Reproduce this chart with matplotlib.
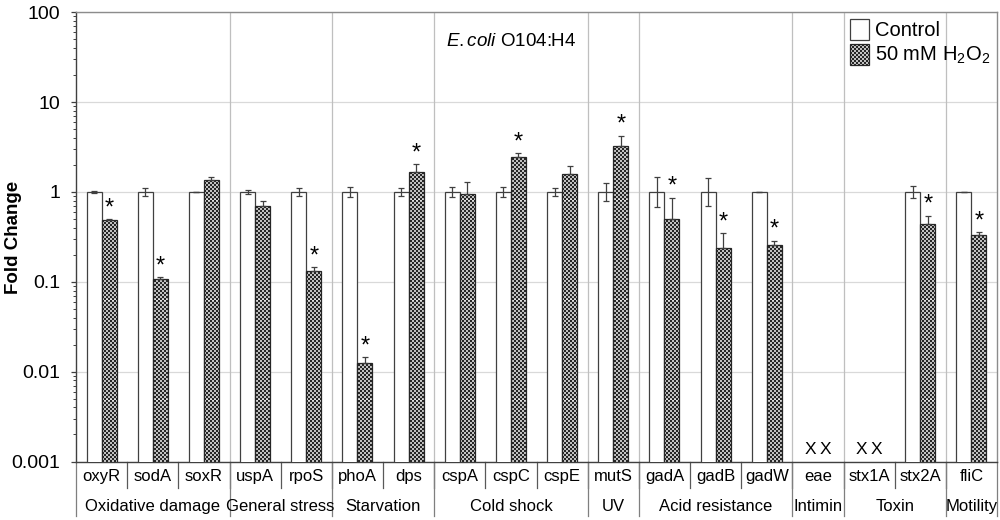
import numpy as np
import matplotlib
matplotlib.use('Agg')
import matplotlib.pyplot as plt
import matplotlib.hatch as mhatch
from matplotlib.path import Path
from matplotlib.lines import Line2D
from matplotlib.ticker import FuncFormatter, LogLocator

nan = np.nan

genes = ['oxyR', 'sodA', 'soxR', 'uspA', 'rpoS', 'phoA', 'dps', 'cspA', 'cspC',
         'cspE', 'mutS', 'gadA', 'gadB', 'gadW', 'eae', 'stx1A', 'stx2A', 'fliC']
group_names = ['Oxidative damage', 'General stress', 'Starvation', 'Cold shock',
               'UV', 'Acid resistance', 'Intimin', 'Toxin', 'Motility']
group_sizes = [3, 2, 2, 3, 1, 3, 1, 2, 1]

control = [1, 1, 1, 1, 1, 1, 1, 1, 1, 1, 1, 1, 1, 1, nan, nan, 1, 1]
control_hi = [1.02, 1.10, 1.01, 1.05, 1.11, 1.13, 1.12, 1.14, 1.13, 1.12,
              1.25, 1.47, 1.44, 1.01, nan, nan, 1.18, 1.01]
treated = [0.49, 0.108, 1.36, 0.70, 0.132, 0.0124, 1.66, 0.95, 2.47, 1.57,
           3.27, 0.50, 0.236, 0.257, nan, nan, 0.44, 0.33]
treated_hi = [0.50, 0.113, 1.48, 0.79, 0.145, 0.0145, 2.03, 1.28, 2.69, 1.96,
              4.23, 0.865, 0.347, 0.285, nan, nan, 0.545, 0.357]
significant = [1, 1, 0, 0, 1, 1, 1, 0, 1, 0, 1, 1, 1, 1, 0, 0, 1, 1]


# checkerboard fill, used in place of the 'O' hatch
class CheckerHatch(mhatch.HatchPatternBase):
    def __init__(self, hatch, density):
        self.cells = 50 if 'O' in hatch else 0
        self.num_vertices = self.cells * self.cells // 2 * 5

    def set_vertices_and_codes(self, vertices, codes):
        s = 1.0 / self.cells
        ii, jj = np.meshgrid(np.arange(self.cells), np.arange(self.cells))
        mask = (ii + jj) % 2 == 0
        corners = np.stack([ii[mask] * s, jj[mask] * s], axis=1)
        sq = np.array([[0, 0], [1, 0], [1, 1], [0, 1], [0, 0]]) * s
        vertices[:] = (corners[:, None, :] + sq[None, :, :]).reshape(-1, 2)
        codes[:] = np.tile([Path.MOVETO, Path.LINETO, Path.LINETO,
                            Path.LINETO, Path.CLOSEPOLY], len(corners))


mhatch._hatch_types = [CheckerHatch if t is mhatch.LargeCircles else t
                       for t in mhatch._hatch_types]

plt.rcParams['font.family'] = ['Liberation Sans', 'DejaVu Sans']
plt.rcParams['mathtext.fontset'] = 'custom'
plt.rcParams['mathtext.rm'] = 'Liberation Sans'
plt.rcParams['mathtext.it'] = 'Liberation Sans:italic'
plt.rcParams['mathtext.default'] = 'regular'
plt.rcParams['hatch.linewidth'] = 0.2
plt.rcParams['hatch.color'] = 'black'

fig = plt.figure(figsize=(10, 5.2), dpi=100)
ax = fig.add_axes([0.076, 0.1125, 0.921, 0.8638])

x = np.arange(len(genes)) + 0.5
w = 0.293
ctrl = np.array(control, dtype=float)
trt = np.array(treated, dtype=float)
c_hi = np.array(control_hi, dtype=float)
t_hi = np.array(treated_hi, dtype=float)

ax.bar(x - w / 2, ctrl, w, color='white', edgecolor='#404040', lw=0.9,
       label='Control', zorder=3)
ax.bar(x + w / 2, trt, w, color='white', edgecolor='#262626', lw=0.9,
       hatch='O', label='50 mM H$_2$O$_2$', zorder=3)

# control error bars symmetric on the log axis
c_lo = ctrl - ctrl ** 2 / c_hi
ax.errorbar(x - w / 2, ctrl, yerr=[c_lo, c_hi - ctrl], fmt='none',
            ecolor='#404040', elinewidth=0.9, capsize=2.5, capthick=0.9, zorder=4)
ax.errorbar(x + w / 2, trt, yerr=[np.zeros_like(trt), t_hi - trt], fmt='none',
            ecolor='#404040', elinewidth=0.9, capsize=2.5, capthick=0.9, zorder=4)

for i in range(len(genes)):
    if significant[i]:
        ax.annotate('*', (x[i] + w / 2, t_hi[i]), xytext=(0, 0),
                    textcoords='offset points', ha='center', va='bottom',
                    fontsize=17, zorder=5)
    if np.isnan(ctrl[i]) and np.isnan(trt[i]):
        for dx in (-w / 2, w / 2):
            ax.text(x[i] + dx, 0.026, 'X', transform=ax.get_xaxis_transform(),
                    ha='center', va='center', fontsize=12.5)

ax.set_yscale('log')
ax.set_ylim(0.001, 100)
ax.set_xlim(0, len(genes))
ax.yaxis.set_major_formatter(FuncFormatter(lambda v, p: '{:g}'.format(v)))
ax.yaxis.set_minor_locator(LogLocator(base=10, subs=np.arange(2, 10)))
ax.yaxis.set_minor_formatter(FuncFormatter(lambda v, p: ''))
ax.tick_params(axis='y', which='major', length=3.6, width=0.9, color='#404040',
               labelsize=14, pad=7.5)
ax.tick_params(axis='y', which='minor', length=2.2, width=0.7, color='#404040')
ax.tick_params(axis='x', length=0, labelbottom=False)
ax.grid(axis='y', which='major', color='#d9d9d9', lw=0.9, zorder=0)
ax.set_axisbelow(True)

for side in ['left', 'bottom']:
    ax.spines[side].set_color('#404040')
    ax.spines[side].set_linewidth(1.0)
for side in ['top', 'right']:
    ax.spines[side].set_color('#8c8c8c')
    ax.spines[side].set_linewidth(1.0)

# two-level category axis
trans = ax.get_xaxis_transform()
for i, g in enumerate(genes):
    ax.text(x[i], -0.033, g, transform=trans, ha='center', va='center',
            fontsize=12)
    if i > 0:
        ax.add_line(Line2D([i, i], [0, -0.06], transform=trans, color='#595959',
                           lw=0.9, clip_on=False))

edges = np.concatenate([[0], np.cumsum(group_sizes)])
for k, name in enumerate(group_names):
    mid = (edges[k] + edges[k + 1]) / 2
    ax.text(mid, -0.1, name, transform=trans, ha='center', va='center',
            fontsize=12)
for e in edges:
    ax.add_line(Line2D([e, e], [0, -0.122], transform=trans, color='#7f7f7f',
                       lw=0.9, clip_on=False))
    if 0 < e < len(genes):
        ax.axvline(e, color='#bfbfbf', lw=0.9, zorder=1)

ax.text(0.402, 0.935, r'$\mathit{E.coli}$ O104:H4', transform=ax.transAxes,
        ha='left', va='center', fontsize=13.5)

fig.text(0.014, 0.544, 'Fold Change', rotation=90, ha='center', va='center',
         fontsize=13.5, fontweight='bold')

ax.legend(loc='upper left', bbox_to_anchor=(0.840, 0.985), frameon=False,
          fontsize=14.5, handlelength=0.95, handleheight=1.25, handletextpad=0.3,
          labelspacing=0.15, borderpad=0, borderaxespad=0)

fig.savefig('out.png', dpi=100)
